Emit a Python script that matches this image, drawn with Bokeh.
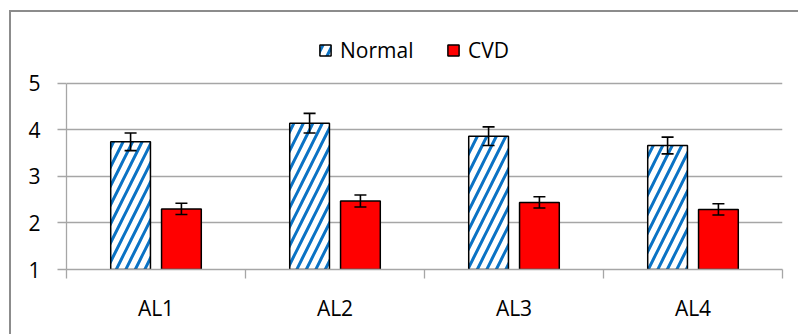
from bokeh.plotting import figure
from bokeh.models import (ColumnDataSource, Whisker, TeeHead, FixedTicker, Legend,
                          LegendItem, Range1d)
from bokeh.embed import file_html
from bokeh.resources import INLINE

categories = ["AL1", "AL2", "AL3", "AL4"]
normal = [3.74, 4.14, 3.86, 3.66]
normal_err = [0.19, 0.21, 0.20, 0.18]
cvd = [2.30, 2.47, 2.44, 2.29]
cvd_err = [0.12, 0.13, 0.12, 0.12]
y_ticks = [1, 2, 3, 4, 5]

OFF = 0.142
BW = 0.222
GRID = "#a6a6a6"
FONT = "Open Sans"
FS = "21px"
Y_TOP = 6.30  # extra headroom above the axis for the legend

pos = [i + 1 for i in range(len(categories))]
src = ColumnDataSource(dict(
    xn=[p - OFF for p in pos],
    xc=[p + OFF for p in pos],
    normal=normal,
    cvd=cvd,
    n_up=[v + e for v, e in zip(normal, normal_err)],
    n_lo=[v - e for v, e in zip(normal, normal_err)],
    c_up=[v + e for v, e in zip(cvd, cvd_err)],
    c_lo=[v - e for v, e in zip(cvd, cvd_err)],
))

p = figure(width=789, height=324,
           x_range=Range1d(0.5, len(categories) + 0.5),
           y_range=Range1d(y_ticks[0], Y_TOP),
           output_backend="svg", toolbar_location=None,
           min_border_left=55, min_border_right=18,
           min_border_top=10, min_border_bottom=67)
p.styles = {"border-left": "2px solid #8c8c8c", "border-top": "2px solid #8c8c8c",
            "position": "relative", "left": "9px", "top": "10px"}
p.outline_line_color = None
p.background_fill_color = "white"
p.border_fill_color = "white"

rn = p.vbar(x="xn", top="normal", bottom=y_ticks[0], width=BW, source=src,
            fill_color="white", line_color="black", line_width=1.5,
            hatch_pattern="/", hatch_color="#0a72c4", hatch_scale=19, hatch_weight=3)
rc = p.vbar(x="xc", top="cvd", bottom=y_ticks[0], width=BW, source=src,
            fill_color="#ff0000", line_color="black", line_width=1.5)

for base, up, lo in (("xn", "n_up", "n_lo"), ("xc", "c_up", "c_lo")):
    w = Whisker(base=base, upper=up, lower=lo, source=src, level="overlay",
                line_color="black", line_width=1.6,
                upper_head=TeeHead(size=12, line_width=1.6, line_color="black"),
                lower_head=TeeHead(size=12, line_width=1.6, line_color="black"))
    p.add_layout(w)

# grid
p.xgrid.visible = False
p.ygrid.grid_line_color = GRID
p.ygrid.grid_line_width = 1.3

# y axis
p.yaxis.ticker = FixedTicker(ticks=y_ticks)
p.yaxis.bounds = (y_ticks[0], y_ticks[-1])
p.yaxis.axis_line_color = GRID
p.yaxis.axis_line_width = 1.3
p.yaxis.major_tick_line_color = GRID
p.yaxis.major_tick_line_width = 1.3
p.yaxis.major_tick_out = 9
p.yaxis.major_tick_in = 0
p.yaxis.minor_tick_line_color = None
p.yaxis.major_label_standoff = 17
p.yaxis.major_label_text_font = FONT
p.yaxis.major_label_text_font_size = FS
p.yaxis.major_label_text_color = "black"

# x axis
p.xaxis.ticker = FixedTicker(ticks=pos, minor_ticks=[q - 0.5 for q in pos] + [pos[-1] + 0.5])
p.xaxis.major_label_overrides = {q: c for q, c in zip(pos, categories)}
p.xaxis.axis_line_color = GRID
p.xaxis.axis_line_width = 1.3
p.xaxis.major_tick_line_color = None
p.xaxis.major_tick_out = 0
p.xaxis.major_tick_in = 0
p.xaxis.minor_tick_line_color = GRID
p.xaxis.minor_tick_line_width = 1.3
p.xaxis.minor_tick_out = 9
p.xaxis.minor_tick_in = 0
p.xaxis.major_label_standoff = 15
p.xaxis.major_label_text_font = FONT
p.xaxis.major_label_text_font_size = FS
p.xaxis.major_label_text_color = "black"

legend = Legend(items=[LegendItem(label="Normal", renderers=[rn]),
                       LegendItem(label="CVD", renderers=[rc])],
                orientation="horizontal", location=(252, 205),
                glyph_width=14, glyph_height=14, label_standoff=8,
                label_width=76, spacing=30, padding=0, margin=0,
                border_line_color=None, background_fill_alpha=0,
                label_text_font=FONT, label_text_font_size=FS,
                label_text_color="black")
p.add_layout(legend, "center")

open("out.html", "w").write(file_html(p, INLINE))
